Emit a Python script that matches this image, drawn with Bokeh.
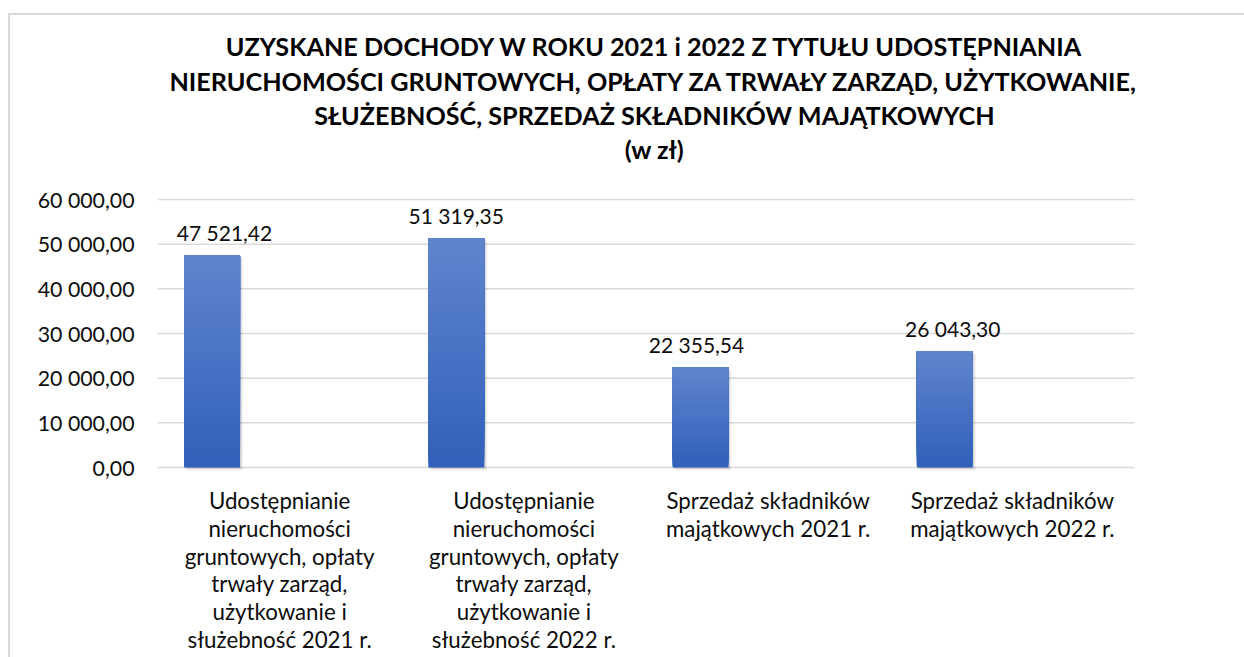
from bokeh.plotting import figure
from bokeh.models import Range1d, FixedTicker, ColumnDataSource, LabelSet, Label
from bokeh.core.properties import value
from bokeh.embed import file_html
from bokeh.resources import INLINE

# ---------------- data ----------------
categories = [
    "Udostępnianie\nnieruchomości\ngruntowych, opłaty\ntrwały zarząd,\nużytkowanie i\nsłużebność 2021 r.",
    "Udostępnianie\nnieruchomości\ngruntowych, opłaty\ntrwały zarząd,\nużytkowanie i\nsłużebność 2022 r.",
    "Sprzedaż składników\nmajątkowych 2021 r.",
    "Sprzedaż składników\nmajątkowych 2022 r.",
]
values = [47521.42, 51319.35, 22355.54, 26043.30]
value_labels = ["47 521,42", "51 319,35", "22 355,54", "26 043,30"]
y_ticks = [0, 10000, 20000, 30000, 40000, 50000, 60000]
y_tick_labels = ["0,00", "10 000,00", "20 000,00", "30 000,00",
                 "40 000,00", "50 000,00", "60 000,00"]
title_lines = [
    "UZYSKANE DOCHODY W ROKU 2021 i 2022 Z TYTUŁU UDOSTĘPNIANIA",
    "NIERUCHOMOŚCI GRUNTOWYCH, OPŁATY ZA TRWAŁY ZARZĄD, UŻYTKOWANIE,",
    "SŁUŻEBNOŚĆ, SPRZEDAŻ SKŁADNIKÓW MAJĄTKOWYCH",
    "(w zł)",
]

# ---------------- layout / style ----------------
W, H = 1244, 657
PLOT_L, PLOT_R = 157, 1134       # px: extent of the value grid
ZERO_Y, TOP_Y = 467, 199         # px: where 0 and Y_MAX sit
Y_MAX = 60000
N_CAT = len(categories)
CAT_PX = (PLOT_R - PLOT_L) / N_CAT
PX_Y = Y_MAX / (ZERO_Y - TOP_Y)   # data units per px (y)
PX_X = 1.0 / CAT_PX               # data units per px (x)

def dx(px):
    return -0.5 + (px - PLOT_L) / CAT_PX

def dy(py):
    return (ZERO_Y - py) * PX_Y

BAR_OFFSET = -67.6 * PX_X
BAR_W = 56 * PX_X
label_nudge_px = [12.5, 0, -4, 8]
FONT = "Lato"
TXT = "#0d0d0d"
GRID = "#D9D9D9"

p = figure(width=W, height=H, output_backend="svg", toolbar_location=None,
           title=None,
           x_range=Range1d(dx(PLOT_L), dx(W)), y_range=Range1d(dy(H), dy(0)),
           min_border_left=PLOT_L, min_border_right=0,
           min_border_top=0, min_border_bottom=0,
           background_fill_color=None, border_fill_color=None)
p.outline_line_color = None
p.xaxis.visible = False
p.xgrid.visible = False
p.ygrid.visible = False

# chart-area border (thin grey line at top and left)
p.styles = {
    "background-image": "linear-gradient(#D9D9D9,#D9D9D9), linear-gradient(#D9D9D9,#D9D9D9)",
    "background-size": "100% 2px, 2px 100%",
    "background-position": "8px 13px, 8px 13px",
    "background-repeat": "no-repeat",
}

yax = p.yaxis[0]
yax.ticker = FixedTicker(ticks=y_ticks)
yax.major_label_overrides = {t: s for t, s in zip(y_ticks, y_tick_labels)}
yax.axis_line_color = None
yax.major_tick_line_color = None
yax.minor_tick_line_color = None
yax.major_tick_in = 0
yax.major_tick_out = 0
yax.major_label_standoff = 23
yax.major_label_text_font = FONT
yax.major_label_text_font_size = "21.3px"
yax.major_label_text_color = TXT

# horizontal value grid lines
p.segment(x0=[dx(PLOT_L)] * len(y_ticks), x1=[dx(PLOT_R)] * len(y_ticks),
          y0=y_ticks, y1=y_ticks, line_color=GRID, line_width=1.5)

# ---------------- soft bar shadow ----------------
for off, alpha in [(1.5, 0.10), (3.0, 0.06)]:
    p.quad(left=[i + BAR_OFFSET - BAR_W / 2 + off * PX_X for i in range(N_CAT)],
           right=[i + BAR_OFFSET + BAR_W / 2 + off * PX_X for i in range(N_CAT)],
           bottom=[-off * PX_Y] * N_CAT,
           top=[v - off * PX_Y for v in values],
           fill_color="#000000", fill_alpha=alpha, line_color=None)

# ---------------- gradient bars ----------------
top_rgb = (0x5F, 0x85, 0xCC)
bot_rgb = (0x31, 0x60, 0xBA)
NS = 40
L, R, B, T, C = [], [], [], [], []
for i, v in enumerate(values):
    for k in range(NS):
        t = (k + 0.5) / NS
        rgb = tuple(int(round(b + (a - b) * t)) for a, b in zip(top_rgb, bot_rgb))
        L.append(i + BAR_OFFSET - BAR_W / 2)
        R.append(i + BAR_OFFSET + BAR_W / 2)
        B.append(v * k / NS)
        T.append(v)
        C.append("#%02x%02x%02x" % rgb)
bars = ColumnDataSource(dict(left=L, right=R, bottom=B, top=T, color=C))
p.quad(left="left", right="right", bottom="bottom", top="top", source=bars,
       fill_color="color", line_color=None)

# ---------------- value labels ----------------
vsrc = ColumnDataSource(dict(
    x=[i + BAR_OFFSET + n * PX_X for i, n in enumerate(label_nudge_px)],
    y=[v + 14.5 * PX_Y for v in values],
    text=value_labels))
p.add_layout(LabelSet(x="x", y="y", text="text", source=vsrc,
                      text_font=value(FONT), text_font_size="21px",
                      text_color=TXT, text_align="center",
                      text_baseline="alphabetic"))

# ---------------- category labels ----------------
cx, cy, ct = [], [], []
for i, c in enumerate(categories):
    for j, line in enumerate(c.split("\n")):
        cx.append(i)
        cy.append(dy(508.5 + j * 27.8))
        ct.append(line)
csrc = ColumnDataSource(dict(x=cx, y=cy, text=ct))
p.add_layout(LabelSet(x="x", y="y", text="text", source=csrc,
                      text_font=value(FONT), text_font_size="22.3px",
                      text_color=TXT, text_align="center",
                      text_baseline="alphabetic"))

# ---------------- title ----------------
title_baselines = [45.5, 80, 114, 148]
for line, by in zip(title_lines, title_baselines):
    p.add_layout(Label(x=dx(654), y=dy(by), text=line, text_font=FONT,
                       text_font_size="25.2px", text_font_style="bold",
                       text_color="#000000", text_align="center",
                       text_baseline="alphabetic"))

open("out.html", "w").write(file_html(p, INLINE))
